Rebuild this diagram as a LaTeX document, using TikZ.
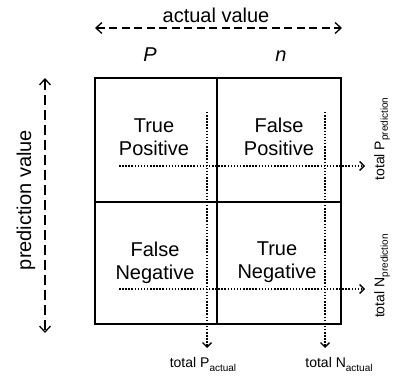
\documentclass[tikz,border=0pt]{standalone}
\usepackage{fontspec}
\setmainfont{Liberation Sans}
\usetikzlibrary{arrows.meta}
\newcommand{\mysub}[1]{\raisebox{-3.5pt}{\fontsize{10}{10}\selectfont #1}}
\tikzset{
  gridline/.style={line width=1.8pt, line cap=rect},
  bigdash/.style={line width=1.3pt, dash pattern=on 8pt off 4.5pt,
    {Straight Barb[length=6pt,width=11pt,line width=1.3pt]}-{Straight Barb[length=6pt,width=11pt,line width=1.3pt]}},
  vdash/.style={line width=1.3pt, dash pattern=on 10pt off 5pt,
    {Straight Barb[length=6pt,width=11pt,line width=1.3pt]}-{Straight Barb[length=6pt,width=11pt,line width=1.3pt]}},
  dotline/.style={line width=1.5pt, dash pattern=on 1.5pt off 1.6pt,
    -{Straight Barb[length=4.5pt,width=9pt,line width=1.3pt]}},
  celltext/.style={align=center, inner sep=0pt, font=\fontsize{20}{23}\selectfont},
  bigtext/.style={inner sep=0pt, font=\fontsize{20}{24}\selectfont},
  smalltext/.style={inner sep=0pt, font=\fontsize{14}{16}\selectfont},
}
\begin{document}
\begin{tikzpicture}[x=1pt,y=-1pt]
\useasboundingbox[fill=white] (0,0) rectangle (394,379);
% grid
\draw[gridline] (95,78) rectangle (341,324);
\coordinate (midtop) at (217,78);
\coordinate (midbot) at (217,324);
\coordinate (midleft) at (95,202);
\coordinate (midright) at (341,202);
\draw[gridline] (midtop) -- (midbot);
\draw[gridline] (midleft) -- (midright);
% cell texts
\node[celltext] (tp) at (154,137.3) {True\\Positive};
\node[celltext] (fp) at (279,137.3) {False\\Positive};
\node[celltext] (fn) at (155,262.5) {False\\Negative};
\node[celltext] (tn) at (277,262.5) {True\\Negative};
% top
\node[bigtext, anchor=base] (actual) at (216,23) {actual value};
\coordinate (aL) at (95,28);
\coordinate (aR) at (342,28);
\draw[bigdash] (aL) -- (aR);
\node[bigtext, anchor=base] (P) at (150,62) {\itshape P};
\node[bigtext, anchor=base] (n) at (281,62) {\itshape n};
% left
\node[bigtext, rotate=90] (pred) at (26,200) {prediction value};
\coordinate (pT) at (45,78);
\coordinate (pB) at (45,333);
\draw[vdash] (pT) -- (pB);
% dotted lines
\coordinate (v1s) at (207,112);
\coordinate (v1e) at (207,348);
\coordinate (v2s) at (325,112);
\coordinate (v2e) at (325,348);
\coordinate (h1s) at (119,166);
\coordinate (h1e) at (365,166);
\coordinate (h2s) at (119,289);
\coordinate (h2e) at (365,289);
\draw[dotline] (v1s) -- (v1e);
\draw[dotline] (v2s) -- (v2e);
\draw[dotline] (h1s) -- (h1e);
\draw[dotline] (h2s) -- (h2e);
% totals
\node[smalltext, rotate=90] (tpp) at (382,139) {total P\mysub{prediction}};
\node[smalltext, rotate=90] (tnp) at (382,276) {total N\mysub{prediction}};
\node[smalltext, anchor=base] (tpa) at (203,368) {total P\mysub{actual}};
\node[smalltext, anchor=base] (tna) at (339,368) {total N\mysub{actual}};
\end{tikzpicture}
\end{document}
